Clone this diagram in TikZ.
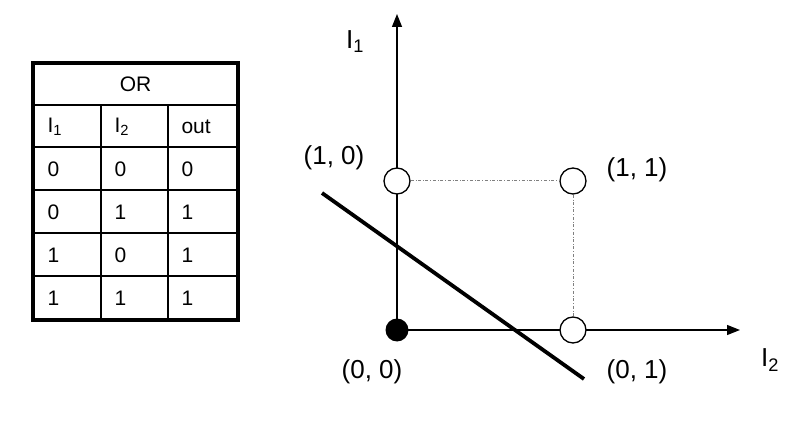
\documentclass[tikz,border=0pt]{standalone}
\usepackage{fontspec}
\setmainfont{Liberation Sans}
\usetikzlibrary{arrows.meta}
\begin{document}
\begin{tikzpicture}[x=1pt,y=-1pt,
  cell/.style={font=\fontsize{21}{24}\selectfont, anchor=west},
  lbl/.style={font=\fontsize{26}{30}\selectfont},
  pt/.style={circle,draw,line width=1.3pt,fill=white,minimum size=26pt,inner sep=0pt},
  axis/.style={line width=1.4pt,-{Triangle[length=13pt,width=10pt]}},
  guide/.style={gray,dash dot,line width=1pt}]
\useasboundingbox (0,0) rectangle (790,422);
% table
\draw[line width=1.4pt] (33,105) -- (238,105);
\foreach \y in {147,190,233,276} \draw[line width=1.4pt] (33,\y) -- (238,\y);
\draw[line width=1.4pt] (101,105) -- (101,320);
\draw[line width=1.4pt] (168,105) -- (168,320);
\draw[line width=3.5pt] (33,63) rectangle (238,320);
\node[font=\fontsize{21}{24}\selectfont] (hdr) at (135.5,84) {OR};
\node[cell] (h1) at (44,127) {I\textsubscript{1}};
\node[cell] (h2) at (111,127) {I\textsubscript{2}};
\node[cell] (h3) at (178,127) {out};
\node[cell] (a1) at (44,169) {0}; \node[cell] (a2) at (111,169) {0}; \node[cell] (a3) at (178,169) {0};
\node[cell] (b1) at (44,212) {0}; \node[cell] (b2) at (111,212) {1}; \node[cell] (b3) at (178,212) {1};
\node[cell] (c1) at (44,255) {1}; \node[cell] (c2) at (111,255) {0}; \node[cell] (c3) at (178,255) {1};
\node[cell] (d1) at (44,298) {1}; \node[cell] (d2) at (111,298) {1}; \node[cell] (d3) at (178,298) {1};
% graph
\coordinate (o) at (397,330);
\coordinate (ytop) at (397,14);
\coordinate (xend) at (740,330);
\draw[axis] (o) -- (ytop);
\draw[axis] (o) -- (xend);
\node[pt] (p10) at (397,181) {};
\node[pt] (p11) at (573,181) {};
\node[pt] (p01) at (573,330) {};
\node[circle,fill=black,minimum size=23pt,inner sep=0pt] (p00) at (397,330) {};
\draw[guide] (p10) -- (p11);
\draw[guide] (p11) -- (p01);
\coordinate (s1) at (322,193);
\coordinate (s2) at (584,379);
\draw[line width=3.8pt] (s1) -- (s2);
\node[lbl] (lI1) at (355,42) {I\textsubscript{1}};
\node[lbl] (lI2) at (770,360) {I\textsubscript{2}};
\node[lbl] (l10) at (334,158) {(1, 0)};
\node[lbl] (l11) at (637,170) {(1, 1)};
\node[lbl] (l00) at (372,372) {(0, 0)};
\node[lbl] (l01) at (637,372) {(0, 1)};
\end{tikzpicture}
\end{document}
